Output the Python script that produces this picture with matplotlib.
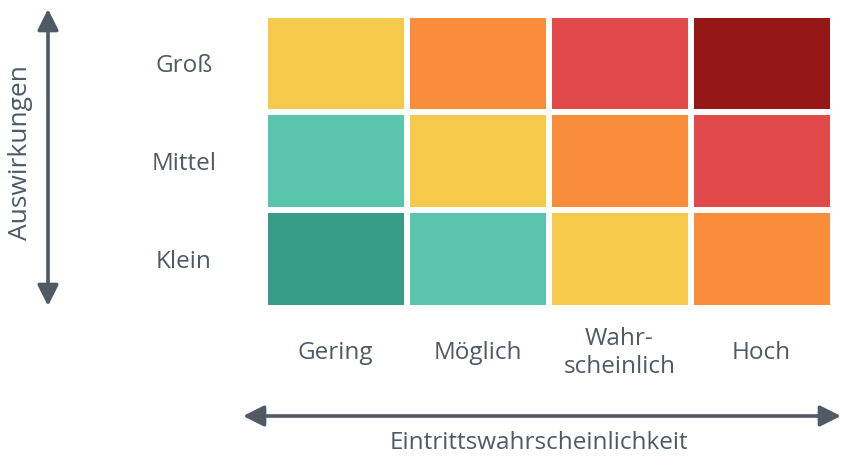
import matplotlib
matplotlib.use("Agg")
from matplotlib import pyplot as plt
from matplotlib.colors import ListedColormap
import numpy as np

plt.rcParams['font.family'] = ['Open Sans', 'DejaVu Sans']

# risk matrix data
impact_labels = ['Klein', 'Mittel', 'Groß']          # bottom -> top
likelihood_labels = ['Gering', 'Möglich', 'Wahr-\nscheinlich', 'Hoch']
# risk level per cell, rows bottom -> top
risk_levels = [
    [0, 1, 2, 3],   # Klein
    [1, 2, 3, 4],   # Mittel
    [2, 3, 4, 5],   # Groß
]
level_colors = ['#389d87', '#5ac4ad', '#f5c94a', '#f98d3b', '#e2494a', '#961717']
x_title = 'Eintrittswahrscheinlichkeit'
y_title = 'Auswirkungen'

text_color = '#4f5a65'
fs = 17.5
W, H = 841, 458
fig = plt.figure(figsize=(W/100, H/100), dpi=100)

# heatmap axes (pixel box -> fig fractions)
left, right, top, bottom = 264.5, 832.5, 14.5, 307.5
ax = fig.add_axes([left/W, 1-bottom/H, (right-left)/W, (bottom-top)/H])
cmap = ListedColormap(level_colors)
ax.pcolormesh(np.array(risk_levels), cmap=cmap, vmin=-0.5, vmax=5.5,
              edgecolors='white', linewidth=4)
ax.set_xlim(0, 4)
ax.set_ylim(0, 3)
for s in ax.spines.values():
    s.set_visible(False)
ax.set_xticks([])
ax.set_yticks(np.arange(3) + 0.5)
ax.set_yticklabels(impact_labels, ha='center', fontsize=fs, color=text_color)
ax.tick_params(axis='y', length=0, pad=58)

for i, lab in enumerate(likelihood_labels):
    ax.text(i + 0.5, -0.155, lab, transform=ax.get_xaxis_transform(),
            ha='center', va='center', fontsize=fs, color=text_color,
            linespacing=1.2)

# arrows in figure pixel coords
def px(x, y):
    return (x/W, 1-y/H)

arrow_kw = dict(arrowstyle='<|-|>,head_length=0.9,head_width=0.45',
                color=text_color, lw=2.6, shrinkA=0, shrinkB=0)
fig.add_artist(matplotlib.patches.FancyArrowPatch(px(48, 9), px(48, 306),
               transform=fig.transFigure, mutation_scale=14, **arrow_kw))
fig.add_artist(matplotlib.patches.FancyArrowPatch(px(243, 416), px(841, 416),
               transform=fig.transFigure, mutation_scale=14, **arrow_kw))

fig.text(*px(539, 443), x_title, ha='center', va='center',
         fontsize=fs, color=text_color)
fig.text(*px(21, 153), y_title, ha='center', va='center', rotation=90,
         fontsize=19, color=text_color)

fig.savefig('out.png', dpi=100)
